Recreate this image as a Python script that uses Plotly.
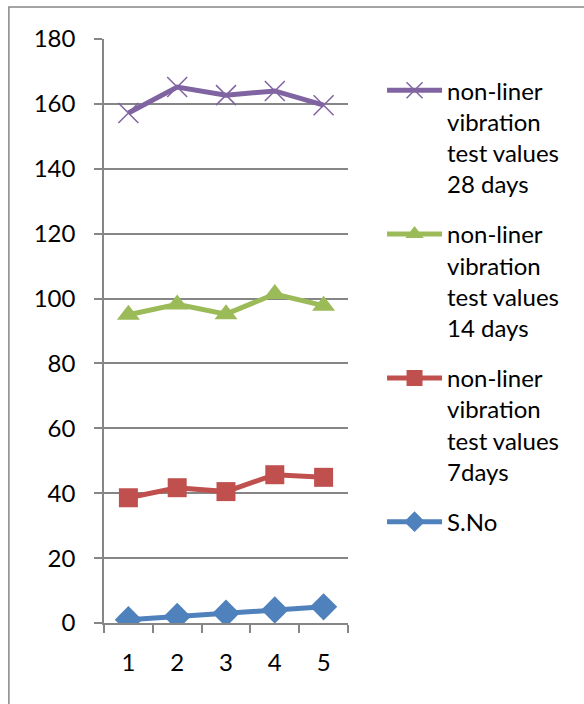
import plotly.graph_objects as go

categories = ["1", "2", "3", "4", "5"]
sno = [1, 2, 3, 4, 5]
days7 = [38.6, 41.7, 40.5, 45.7, 44.9]
days14 = [95.0, 98.2, 95.2, 101.4, 97.8]
days28 = [157.2, 165.2, 162.7, 164.0, 159.6]

names = [
    "S.No",
    "non-liner<br>vibration<br>test values<br>7days",
    "non-liner<br>vibration<br>test values<br>14 days",
    "non-liner<br>vibration<br>test values<br>28 days",
]
series = [sno, days7, days14, days28]
colors = ["#4F81BD", "#C0504D", "#9BBB59", "#8064A2"]
symbols = ["diamond", "square", "triangle-up", "x-thin"]
msizes = [21, 19, 20, 20]

FONT = "Lato"
fig = go.Figure()
items = list(zip(names, series, colors, symbols, msizes))
for i, (nm, ys, c, s, ms) in reversed(list(enumerate(items))):
    marker = dict(symbol=s, size=ms, color=c)
    if s == "x-thin":
        marker["line"] = dict(color=c, width=1.5)
    fig.add_trace(go.Scatter(
        x=categories, y=ys, name=nm, mode="lines+markers",
        line=dict(color=c, width=5), marker=marker,
        legendgroup="g%d" % i,
    ))

grid = "#868686"
fig.update_layout(
    width=584, height=704, autosize=False,
    margin=dict(l=104, r=236, t=39, b=81, pad=0),
    paper_bgcolor="white", plot_bgcolor="white",
    font=dict(family=FONT, size=24, color="#000000"),
    showlegend=True,
    legend=dict(
        x=1.1395, xanchor="left", y=0.95, yanchor="top",
        traceorder="grouped", tracegroupgap=16, valign="top",
        itemwidth=55, font=dict(family=FONT, size=24, color="#000000"),
        bgcolor="rgba(0,0,0,0)",
    ),
    xaxis=dict(
        type="category", range=[-0.5, 4.5], showgrid=False,
        showline=True, linecolor=grid, linewidth=1.5,
        ticks="outside", ticklen=8, tickcolor=grid, tickwidth=1.5,
        tickson="boundaries", tickfont=dict(family=FONT, size=24),
        ticklabelstandoff=17, zeroline=False,
    ),
    yaxis=dict(
        range=[0, 180], dtick=20, showgrid=True, gridcolor=grid, gridwidth=1.5,
        showline=True, linecolor=grid, linewidth=1.5,
        ticks="outside", ticklen=8, tickcolor=grid, tickwidth=1.5,
        tickfont=dict(family=FONT, size=24), ticklabelstandoff=14,
        zeroline=False,
    ),
    shapes=[dict(
        type="rect", xref="paper", yref="paper",
        x0=(9 - 104) / 243.7, x1=(600 - 104) / 243.7,
        y0=(623 - 720) / 584, y1=(623 - 7) / 584,
        line=dict(color="#878787", width=1.5), fillcolor="rgba(0,0,0,0)",
        layer="below",
    )],
)
fig.write_html("out.html")
